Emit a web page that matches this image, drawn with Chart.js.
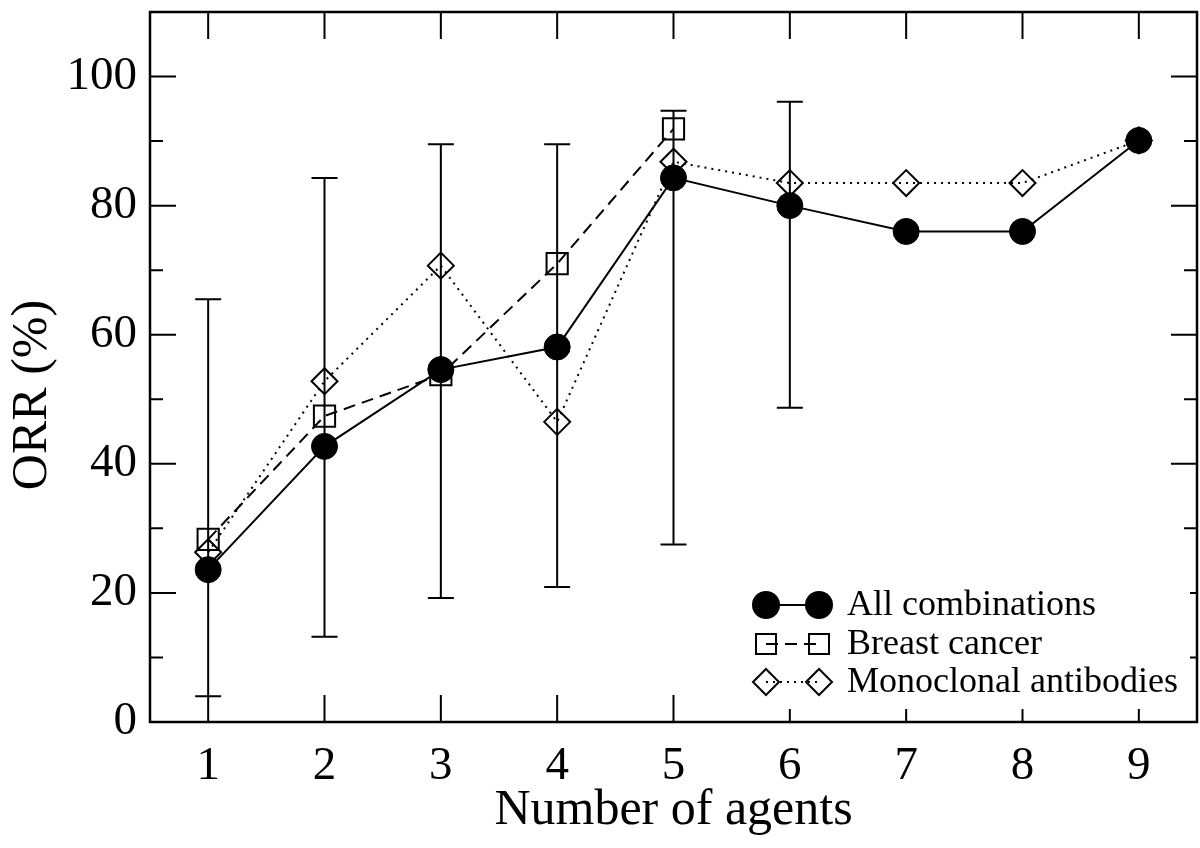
<!DOCTYPE html>
<html>
<head>
<meta charset="utf-8">
<script src="https://cdn.jsdelivr.net/npm/chart.js@4.4.0/dist/chart.umd.min.js"></script>
<style>
html,body{margin:0;padding:0;background:#fff;overflow:hidden;width:1200px;height:848px;}
#wrap{width:1214px;height:853px;margin-top:-5px;position:relative;}
canvas{display:block;}
</style>
</head>
<body>
<div id="wrap"><canvas id="c"></canvas></div>
<script>
// ---- data ----
const agents = [1, 2, 3, 4, 5, 6, 7, 8, 9];
const allCombinations = [23.6, 42.7, 54.6, 58.1, 84.3, 80.0, 76.0, 76.0, 90.1];
const allErrLow  = [4.0, 13.2, 19.2, 20.9, 27.5, 48.7, null, null, null];
const allErrHigh = [65.5, 84.3, 89.5, 89.5, 94.7, 96.1, null, null, null];
const breastAgents = [1, 2, 3, 4, 5];
const breastCancer = [28.3, 47.4, 53.8, 71.0, 91.9];
const monoclonal = [26.3, 52.8, 70.7, 46.5, 86.8, 83.5, 83.5, 83.5, 90.1];
const xTickValues = [1, 2, 3, 4, 5, 6, 7, 8, 9];
const yMajorTicks = [0, 20, 40, 60, 80, 100];
const yMinorTicks = [10, 30, 50, 70, 90];
const seriesNames = ['All combinations', 'Breast cancer', 'Monoclonal antibodies'];
const xTitle = 'Number of agents';
const yTitle = 'ORR (%)';

const FONT = '"Liberation Serif", "Times New Roman", serif';

const pts = (xs, ys) => xs.map((x, i) => ({x: x, y: ys[i]}));

const decor = {
  id: 'decor',
  beforeDatasetsDraw(chart) {
    const {ctx, scales: {x, y}} = chart;
    ctx.save();
    ctx.strokeStyle = '#000';
    ctx.lineWidth = 2;
    ctx.setLineDash([]);
    agents.forEach((a, i) => {
      if (allErrLow[i] == null) return;
      const px = x.getPixelForValue(a);
      const p1 = y.getPixelForValue(allErrLow[i]);
      const p2 = y.getPixelForValue(allErrHigh[i]);
      ctx.beginPath();
      ctx.moveTo(px, p1); ctx.lineTo(px, p2);
      ctx.moveTo(px - 13, p1); ctx.lineTo(px + 13, p1);
      ctx.moveTo(px - 13, p2); ctx.lineTo(px + 13, p2);
      ctx.stroke();
    });
    ctx.restore();
  },
  afterDraw(chart) {
    const {ctx, chartArea: ca, scales: {x, y}} = chart;
    const B = ca.bottom;
    ctx.save();
    ctx.strokeStyle = '#000';
    ctx.setLineDash([]);
    // ticks (inward, all four sides)
    ctx.lineWidth = 2;
    ctx.beginPath();
    xTickValues.forEach(v => {
      const px = x.getPixelForValue(v);
      ctx.moveTo(px, ca.bottom); ctx.lineTo(px, ca.bottom - 27);
      ctx.moveTo(px, ca.top); ctx.lineTo(px, ca.top + 27);
    });
    yMajorTicks.forEach(v => {
      const py = y.getPixelForValue(v);
      ctx.moveTo(ca.left, py); ctx.lineTo(ca.left + 26, py);
      ctx.moveTo(ca.right, py); ctx.lineTo(ca.right - 26, py);
    });
    yMinorTicks.forEach(v => {
      const py = y.getPixelForValue(v);
      ctx.moveTo(ca.left, py); ctx.lineTo(ca.left + 13, py);
      ctx.moveTo(ca.right, py); ctx.lineTo(ca.right - 13, py);
    });
    ctx.stroke();

    // legend box (white, covers ticks)
    ctx.fillStyle = '#fff';
    ctx.fillRect(742, B - 144, 448, 131);
    const rows = [B - 117, B - 78, B - 40];
    const x1 = 766, x2 = 819;
    chart.data.datasets.forEach((ds, i) => {
      const ry = rows[i];
      ctx.save();
      ctx.strokeStyle = '#000';
      ctx.lineWidth = 2;
      ctx.setLineDash(ds.borderDash || []);
      ctx.beginPath();
      ctx.moveTo(x1, ry); ctx.lineTo(x2, ry);
      ctx.stroke();
      ctx.setLineDash([]);
      [x1, x2].forEach(cx => {
        ctx.beginPath();
        if (ds.pointStyle === 'circle') {
          ctx.arc(cx, ry, 14, 0, Math.PI * 2);
          ctx.fillStyle = '#000';
          ctx.fill();
        } else if (ds.pointStyle === 'rect') {
          ctx.rect(cx - 10, ry - 10, 20, 20);
          ctx.stroke();
        } else {
          ctx.moveTo(cx - 13, ry); ctx.lineTo(cx, ry - 13);
          ctx.lineTo(cx + 13, ry); ctx.lineTo(cx, ry + 13);
          ctx.closePath();
          ctx.stroke();
        }
      });
      ctx.fillStyle = '#000';
      ctx.font = '36px ' + FONT;
      ctx.textAlign = 'left';
      ctx.textBaseline = 'middle';
      ctx.fillText(ds.label, 847, ry + 1);
      ctx.restore();
    });

    // frame
    ctx.lineWidth = 2.5;
    ctx.strokeRect(ca.left, ca.top, ca.right - ca.left, ca.bottom - ca.top);

    // axis titles
    ctx.fillStyle = '#000';
    ctx.font = '50px ' + FONT;
    ctx.textAlign = 'center';
    ctx.textBaseline = 'alphabetic';
    ctx.fillText(xTitle, (ca.left + ca.right) / 2, B + 102);
    ctx.save();
    ctx.translate(46, ca.top + 383);
    ctx.rotate(-Math.PI / 2);
    ctx.fillText(yTitle, 0, 0);
    ctx.restore();
    ctx.restore();
  }
};

new Chart(document.getElementById('c'), {
  type: 'line',
  data: {
    datasets: [
      {
        label: seriesNames[0],
        data: pts(agents, allCombinations),
        borderColor: '#000', borderWidth: 2,
        pointStyle: 'circle', pointRadius: 13, pointBorderWidth: 1,
        pointBackgroundColor: '#000', pointBorderColor: '#000',
        fill: false, tension: 0
      },
      {
        label: seriesNames[1],
        data: pts(breastAgents, breastCancer),
        borderColor: '#000', borderWidth: 2, borderDash: [12, 7],
        pointStyle: 'rect', pointRadius: 15, pointBorderWidth: 2,
        pointBackgroundColor: 'rgba(0,0,0,0)', pointBorderColor: '#000',
        fill: false, tension: 0
      },
      {
        label: seriesNames[2],
        data: pts(agents, monoclonal),
        borderColor: '#000', borderWidth: 2, borderDash: [2, 5],
        pointStyle: 'rectRot', pointRadius: 13, pointBorderWidth: 2,
        pointBackgroundColor: 'rgba(0,0,0,0)', pointBorderColor: '#000',
        fill: false, tension: 0
      }
    ]
  },
  options: {
    responsive: true,
    maintainAspectRatio: false,
    devicePixelRatio: 1,
    animation: false,
    layout: {padding: {top: 7, right: 3, left: 0, bottom: 0}},
    plugins: {legend: {display: false}, tooltip: {enabled: false}},
    scales: {
      x: {
        type: 'linear', min: 0.5, max: 9.5,
        grid: {display: false, drawTicks: false},
        border: {display: false},
        afterBuildTicks: s => { s.ticks = xTickValues.map(v => ({value: v})); },
        afterFit: s => { s.height = 126; s.paddingLeft = 0; s.paddingRight = 0; s.paddingTop = 0; s.paddingBottom = 0; },
        ticks: {color: '#000', padding: 16, maxRotation: 0, autoSkip: false,
          font: {family: FONT, size: 47}}
      },
      y: {
        type: 'linear', min: 0, max: 110,
        grid: {display: false, drawTicks: false},
        border: {display: false},
        afterBuildTicks: s => { s.ticks = yMajorTicks.map(v => ({value: v})); },
        afterFit: s => { s.width = 150; s.paddingLeft = 0; s.paddingRight = 0; s.paddingTop = 0; s.paddingBottom = 0; },
        ticks: {color: '#000', padding: 13,
          font: {family: FONT, size: 47}}
      }
    }
  },
  plugins: [decor]
});
</script>
</body>
</html>
